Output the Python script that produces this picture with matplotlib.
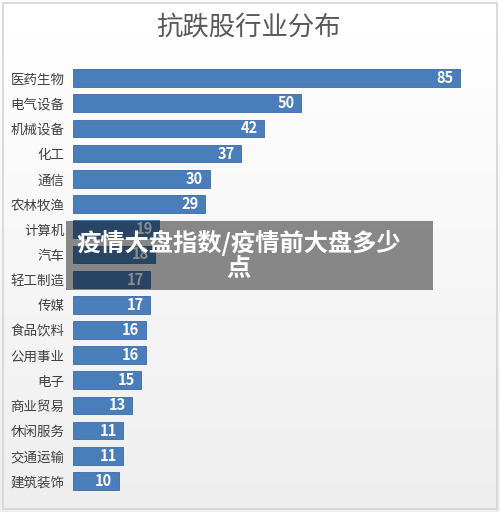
import numpy as np
import matplotlib.pyplot as plt
from matplotlib.patches import Rectangle

plt.rcParams['font.family'] = ['Noto Sans CJK SC', 'DejaVu Sans']

# data, top to bottom
industries = ['医药生物', '电气设备', '机械设备', '化工', '通信', '农林牧渔', '计算机', '汽车',
              '轻工制造', '传媒', '食品饮料', '公用事业', '电子', '商业贸易', '休闲服务',
              '交通运输', '建筑装饰']
counts = [85, 50, 42, 37, 30, 29, 19, 18, 17, 17, 16, 16, 15, 13, 11, 11, 10]

title = '抗跌股行业分布'
banner = '疫情大盘指数/疫情前大盘多少\n点'

fig = plt.figure(figsize=(5, 5.12), dpi=100)
fig.patch.set_facecolor('white')

# soft background + thin frame
bg = fig.add_axes([0, 0, 1, 1], zorder=-5)
grad = np.linspace(1.0, 0.93, 256).reshape(-1, 1)
bg.imshow(grad, cmap='gray', vmin=0, vmax=1, aspect='auto', extent=[0, 1, 0, 1])
bg.add_patch(Rectangle((0.006, 0.006), 0.988, 0.988, transform=bg.transAxes,
                       fill=False, edgecolor='#d4d4d4', linewidth=1.2))
bg.set_xlim(0, 1)
bg.set_ylim(0, 1)
bg.axis('off')

ax = fig.add_axes([0.146, 0.036, 0.814, 0.836])
ax.patch.set_alpha(0)
y = np.arange(len(industries))
bars = ax.barh(y, counts, height=0.7, color='#4a7ebb', edgecolor='#3a6aa5', linewidth=0.6)
ax.set_ylim(len(industries) - 0.5, -0.5)
ax.set_xlim(0, 89.4)
ax.set_yticks(y)
ax.set_yticklabels(industries, fontsize=9.7, color='#404040')
ax.tick_params(axis='y', length=0, pad=6)
ax.set_xticks([])
for s in ax.spines.values():
    s.set_visible(False)

for b, v in zip(bars, counts):
    ax.text(v - 1.4, b.get_y() + b.get_height() / 2, str(v), ha='right', va='center',
            color='white', fontsize=10.5, fontweight='bold')

fig.text(0.497, 0.945, title, ha='center', va='center', fontsize=19, color='#595959')

# overlay banner
fig.patches.append(Rectangle((66 / 500, 1 - 290 / 512), (433 - 66) / 500, 69 / 512,
                             transform=fig.transFigure, facecolor='black', alpha=0.45,
                             edgecolor='none', zorder=10))
fig.text(0.477, 1 - 255 / 512, banner, ha='center', va='center', fontsize=17.5,
         fontweight='bold', color='white', linespacing=1.05, zorder=11)

fig.savefig('out.png', dpi=100)
